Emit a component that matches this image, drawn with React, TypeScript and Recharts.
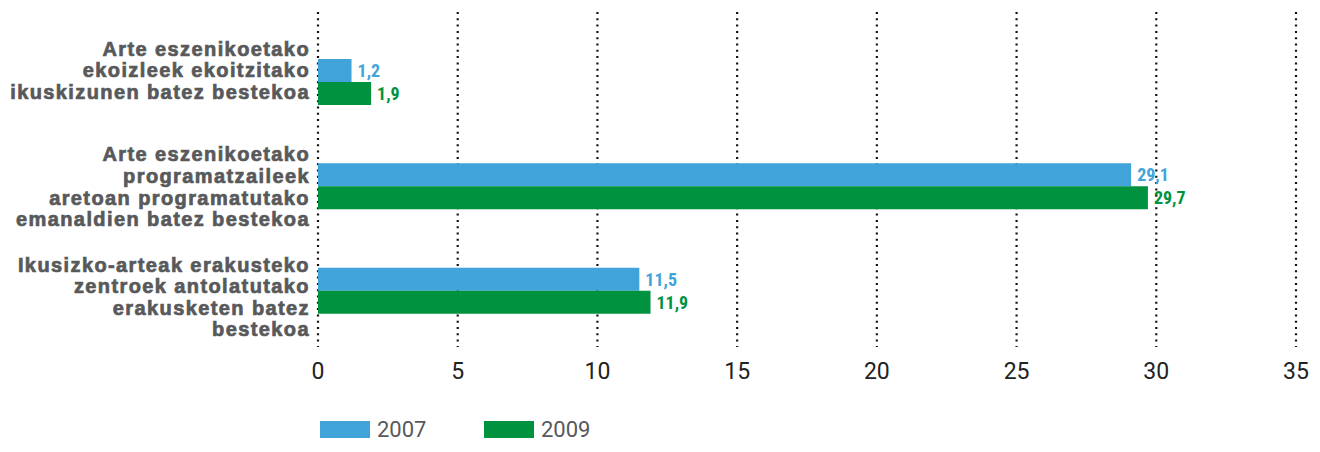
import { BarChart, Bar, XAxis, YAxis, CartesianGrid, LabelList } from 'recharts';

// Category labels (line breaks as in the original)
const categories = [
  'Arte eszenikoetako\nekoizleek ekoitzitako\nikuskizunen batez bestekoa',
  'Arte eszenikoetako\nprogramatzaileek\naretoan programatutako\nemanaldien batez bestekoa',
  'Ikusizko-arteak erakusteko\nzentroek antolatutako\nerakusketen batez\nbestekoa',
];
const values2007 = [1.2, 29.1, 11.5];
const values2009 = [1.9, 29.7, 11.9];
const xTicks = [0, 5, 10, 15, 20, 25, 30, 35];

const BLUE = '#40a3d9';
const GREEN = '#00923f';
const GREY = '#58595b';

const data = categories.map((name, i) => ({ name, y2007: values2007[i], y2009: values2009[i] }));

// small vertical nudges so each label block sits as in the reference
const labelShift = [-12, 0, 6];

function CategoryTick(props: any) {
  const { x, y, payload, index } = props;
  const lines: string[] = String(payload.value).split('\n');
  const lh = 21.6;
  const start = y + (labelShift[index] || 0) - ((lines.length - 1) * lh) / 2;
  return (
    <text
      x={x}
      y={start}
      textAnchor="end"
      fill={GREY}
      stroke={GREY}
      strokeWidth={0.7}
      letterSpacing={1.4}
      fontFamily="'Liberation Sans', Arial, sans-serif"
      fontWeight={700}
      fontSize={20}
    >
      {lines.map((l, i) => (
        <tspan key={i} x={x} y={start + i * lh} dy="0.36em">
          {l}
        </tspan>
      ))}
    </text>
  );
}

const fmt = (v: any) => String(v).replace('.', ',');

function LegendBlock() {
  const items = [
    { label: '2007', color: BLUE },
    { label: '2009', color: GREEN },
  ];
  return (
    <div style={{ position: 'absolute', left: 320, top: 417, display: 'flex' }}>
      {items.map((it) => (
        <div key={it.label} style={{ display: 'flex', alignItems: 'center', width: 164 }}>
          <span style={{ display: 'inline-block', width: 50, height: 17, background: it.color }} />
          <span style={{ marginLeft: 7, fontFamily: 'Roboto, sans-serif', fontSize: 22, color: GREY }}>
            {it.label}
          </span>
        </div>
      ))}
    </div>
  );
}

export default function App() {
  return (
    <div style={{ position: 'absolute', left: 0, top: 0, width: 1320, height: 452, background: '#fff' }}>
      <BarChart
        width={1320}
        height={452}
        data={data}
        layout="vertical"
        margin={{ top: 12, right: 24, bottom: 105 - 40, left: 0 }}
        barSize={23}
        barGap={0}
      >
        <CartesianGrid
          horizontal={false}
          stroke="#111"
          strokeWidth={2.2}
          strokeDasharray="2 4.3"
        />
        <XAxis
          type="number"
          domain={[0, 35]}
          ticks={xTicks}
          axisLine={false}
          tickLine={false}
          tickMargin={10}
          height={40}
          tick={{ fill: '#222', fontFamily: 'Roboto, sans-serif', fontSize: 23 }}
        />
        <YAxis
          type="category"
          dataKey="name"
          width={318}
          axisLine={false}
          tickLine={false}
          tick={<CategoryTick />}
          padding={{ top: 18, bottom: 4 }}
        />
        <Bar dataKey="y2007" name="2007" fill={BLUE} isAnimationActive={false}>
          <LabelList
            dataKey="y2007"
            position="right"
            offset={6}
            formatter={fmt}
            fill={BLUE}
            fontFamily="'Liberation Sans Narrow', 'Roboto Condensed', sans-serif"
            fontWeight={700}
            fontSize={18}
          />
        </Bar>
        <Bar dataKey="y2009" name="2009" fill={GREEN} isAnimationActive={false}>
          <LabelList
            dataKey="y2009"
            position="right"
            offset={6}
            formatter={fmt}
            fill={GREEN}
            fontFamily="'Liberation Sans Narrow', 'Roboto Condensed', sans-serif"
            fontWeight={700}
            fontSize={18}
          />
        </Bar>
      </BarChart>
      <LegendBlock />
    </div>
  );
}
